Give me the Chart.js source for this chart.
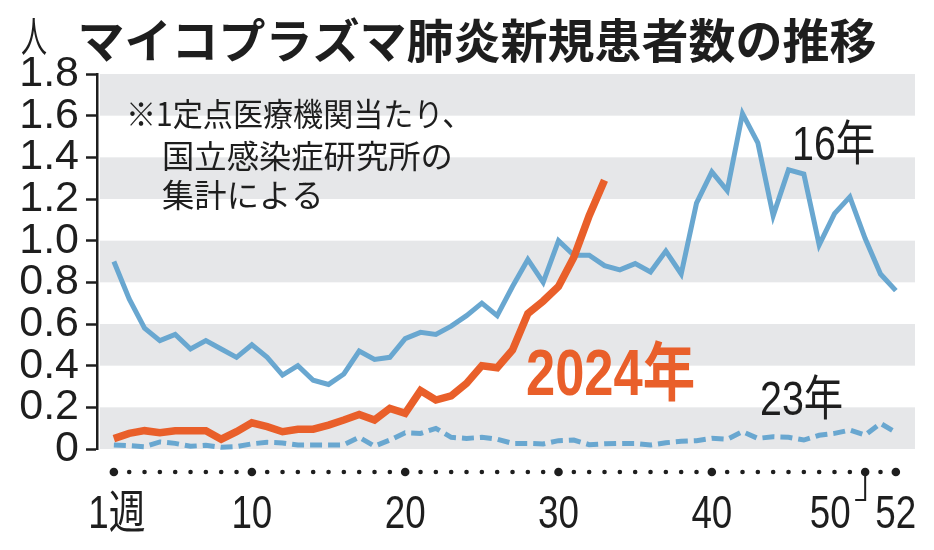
<!DOCTYPE html>
<html lang="ja">
<head>
<meta charset="utf-8">
<title>マイコプラズマ肺炎新規患者数の推移</title>
<script src="https://cdn.jsdelivr.net/npm/chart.js@4/dist/chart.umd.min.js"></script>
<style>
    html, body { margin: 0; padding: 0; background: #fff; }
</style>
</head>
<body>
<canvas id="chart" width="934" height="550"></canvas>
<script>
// Data: new patients per sentinel site, by week
const weeks = Array.from({ length: 52 }, (_, i) => i + 1)
const y2016 = [0.90, 0.72, 0.58, 0.52, 0.55, 0.48, 0.52, 0.48, 0.44, 0.50,
    0.44, 0.355, 0.40, 0.33, 0.31, 0.36, 0.47, 0.43, 0.44, 0.53,
    0.56, 0.55, 0.59, 0.64, 0.70, 0.64, 0.78, 0.91, 0.80, 1.00,
    0.93, 0.93, 0.88, 0.86, 0.89, 0.85, 0.95, 0.84, 1.18, 1.33,
    1.24, 1.61, 1.47, 1.12, 1.34, 1.32, 0.98, 1.13, 1.21, 1.01,
    0.84, 0.76]
const y2023 = [0.019, 0.016, 0.011, 0.034, 0.027, 0.013, 0.018, 0.008, 0.011, 0.025,
    0.032, 0.029, 0.019, 0.019, 0.019, 0.02, 0.056, 0.014, 0.043, 0.078,
    0.075, 0.099, 0.056, 0.051, 0.056, 0.047, 0.027, 0.027, 0.024, 0.04,
    0.043, 0.021, 0.025, 0.027, 0.027, 0.019, 0.030, 0.037, 0.04, 0.051,
    0.047, 0.083, 0.051, 0.059, 0.056, 0.043, 0.066, 0.075, 0.091, 0.067,
    0.123, 0.08]
const y2024 = [0.05, 0.075, 0.088, 0.078, 0.088, 0.088, 0.088, 0.047, 0.083, 0.126,
    0.107, 0.083, 0.095, 0.095, 0.115, 0.139, 0.166, 0.139, 0.195, 0.171,
    0.28, 0.235, 0.255, 0.315, 0.40, 0.39, 0.475, 0.65, 0.71, 0.78,
    0.92, 1.12, 1.29]
const labelWeeks = [1, 10, 20, 30, 40, 50, 52]
const labelTexts = ["1週", "10", "20", "30", "40", "50", "52"]

const BLUE = "#69a7d0"
const ORANGE = "#e95f2a"
const BAND = "#e6e7e9"
const INK = "#1e1e1e"
const SANS = '"Liberation Sans", "Noto Sans CJK JP", sans-serif'
const JP = '"Noto Sans CJK JP", sans-serif'

// draw text squeezed horizontally (the original uses condensed type)
function drawText(ctx, text, x, y, font, align, sx) {
    ctx.save()
    ctx.font = font
    ctx.textAlign = "left"
    const w = ctx.measureText(text).width * sx
    let left = x
    if (align === "center") left = x - w / 2
    if (align === "right") left = x - w
    ctx.translate(left, y)
    ctx.scale(sx, 1)
    ctx.fillText(text, 0, 0)
    ctx.restore()
}

// Background, grey bands, week dots and all the text
const decor = {
    id: "decor",
    beforeDraw(chart) {
        const ctx = chart.ctx
        ctx.save()
        ctx.fillStyle = "#fff"
        ctx.fillRect(0, 0, chart.width, chart.height)
        ctx.restore()
    },
    beforeDatasetsDraw(chart) {
        const { ctx, chartArea } = chart
        const y = chart.scales.y
        ctx.save()
        ctx.fillStyle = BAND
        for (let v = 0; v < 1.7; v += 0.4) {
            const top = y.getPixelForValue(v + 0.2)
            const bottom = y.getPixelForValue(v)
            ctx.fillRect(chartArea.left + 3, top, chartArea.right - chartArea.left - 3, bottom - top)
        }
        ctx.restore()
    },
    afterDraw(chart) {
        const ctx = chart.ctx
        const x = chart.scales.x
        ctx.save()
        ctx.fillStyle = INK
        ctx.strokeStyle = INK

        // week dots
        const dotY = 472
        weeks.forEach((w) => {
            const big = labelWeeks.includes(w)
            ctx.beginPath()
            ctx.arc(x.getPixelForValue(w), dotY, big ? 4.3 : 2.3, 0, Math.PI * 2)
            ctx.fill()
        })

        // week labels
        ctx.textBaseline = "alphabetic"
        labelWeeks.forEach((w, i) => {
            const shift = w === 50 ? -35 : w === 1 ? 3 : 0
            drawText(ctx, labelTexts[i], x.getPixelForValue(w) + shift, 528, "46px " + SANS, "center", 0.8)
        })
        // leader from week 50 dot to its label
        const x50 = x.getPixelForValue(50)
        ctx.lineWidth = 2
        ctx.beginPath()
        ctx.moveTo(x50, dotY)
        ctx.lineTo(x50, 500)
        ctx.lineTo(x50 - 10, 500)
        ctx.stroke()

        // title and unit
        ctx.textBaseline = "middle"
        drawText(ctx, "マイコプラズマ肺炎新規患者数の推移", 477, 40, "bold 47px " + JP, "center", 1)
        drawText(ctx, "人", 34, 36, "42px " + JP, "center", 0.62)

        // note
        drawText(ctx, "※1定点医療機関当たり、", 126, 114, "32px " + JP, "left", 0.94)
        drawText(ctx, "国立感染症研究所の", 162, 156, "32px " + JP, "left", 1.01)
        drawText(ctx, "集計による", 162, 195, "32px " + JP, "left", 1.01)

        // series labels
        ctx.textBaseline = "alphabetic"
        drawText(ctx, "16年", 792, 160, "48px " + SANS, "left", 0.82)
        drawText(ctx, "23年", 760, 415, "48px " + SANS, "left", 0.82)
        ctx.fillStyle = ORANGE
        drawText(ctx, "2024年", 526, 395, "bold 64px " + SANS, "left", 0.82)
        ctx.restore()
    },
}

new Chart(document.getElementById("chart"), {
    type: "line",
    data: {
        labels: weeks,
        datasets: [
            {
                label: "2024年",
                data: y2024,
                borderColor: ORANGE,
                borderWidth: 7.5,
                clip: false,
            },
            {
                label: "16年",
                data: y2016,
                borderColor: BLUE,
                borderWidth: 5,
                clip: false,
            },
            {
                label: "23年",
                data: y2023,
                borderColor: BLUE,
                borderWidth: 5,
                borderDash: [12, 6],
                clip: false,
            },
        ],
    },
    options: {
        responsive: false,
        devicePixelRatio: 1,
        animation: false,
        layout: { padding: { left: 0, right: 19, top: 74, bottom: 101 } },
        elements: {
            point: { radius: 0 },
            line: { tension: 0, fill: false, borderJoinStyle: "miter", borderCapStyle: "butt" },
        },
        scales: {
            x: {
                type: "linear",
                min: -0.1,
                max: 53.25,
                display: false,
            },
            y: {
                min: 0,
                max: 1.8,
                afterFit(scale) {
                    scale.width = 97
                },
                border: { display: true, color: INK, width: 2.5 },
                grid: {
                    drawOnChartArea: false,
                    drawTicks: true,
                    tickLength: 11,
                    tickColor: INK,
                    tickWidth: 2.5,
                },
                ticks: {
                    stepSize: 0.2,
                    autoSkip: false,
                    padding: 7,
                    color: INK,
                    font: { family: '"Liberation Sans", sans-serif', size: 43 },
                    callback: (v) => (v === 0 ? "0" : v.toFixed(1)),
                },
            },
        },
        plugins: {
            legend: { display: false },
            tooltip: { enabled: false },
        },
    },
    plugins: [decor],
})
</script>
</body>
</html>
